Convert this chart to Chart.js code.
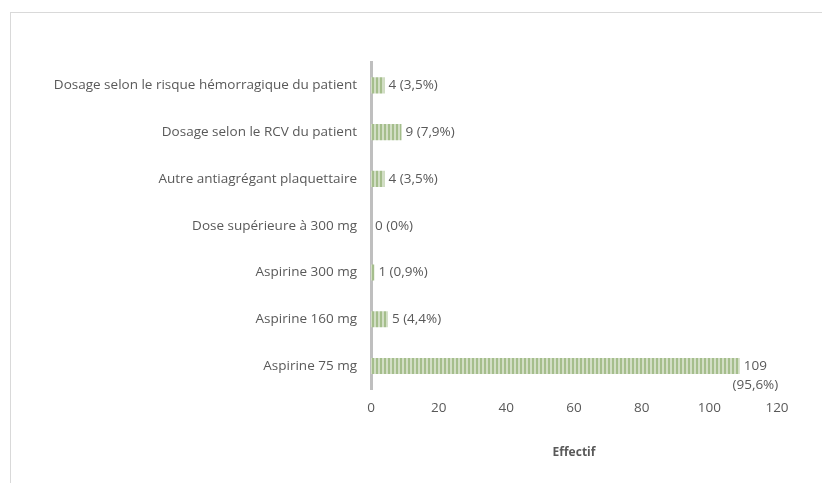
<!DOCTYPE html>
<html lang="fr">
<head>
  <meta charset="UTF-8">
  <title>Effectif</title>
  <script src="https://cdn.jsdelivr.net/npm/chart.js"></script>
  <style>
    html, body { margin: 0; padding: 0; background: #fff; overflow: hidden; }
    #frame { position: absolute; left: 10px; top: 12px; width: 900px; height: 600px;
             border-top: 1px solid #d9d9d9; border-left: 1px solid #d9d9d9; }
    #box { position: absolute; left: 0; top: 0; width: 822px; height: 483px; }
  </style>
</head>
<body>
  <div id="frame"></div>
  <div id="box"><canvas id="chart" width="822" height="483"></canvas></div>

  <script>
    const categories = [
      'Dosage selon le risque hémorragique du patient',
      'Dosage selon le RCV du patient',
      'Autre antiagrégant plaquettaire',
      'Dose supérieure à 300 mg',
      'Aspirine 300 mg',
      'Aspirine 160 mg',
      'Aspirine 75 mg'
    ];
    const counts = [4, 9, 4, 0, 1, 5, 109];
    const percents = ['3,5', '7,9', '3,5', '0', '0,9', '4,4', '95,6'];
    const xTicks = [0, 20, 40, 60, 80, 100, 120];

    const FONT = '"Open Sans", sans-serif';
    const GREY = '#595959';

    // vertical stripe fill like the original
    const pc = document.createElement('canvas');
    pc.width = 4; pc.height = 4;
    const pctx = pc.getContext('2d');
    pctx.fillStyle = '#d2dec5'; pctx.fillRect(0, 0, 4, 4);
    pctx.fillStyle = '#a5be8c'; pctx.fillRect(0, 0, 2, 4);
    const ctx = document.getElementById('chart').getContext('2d');
    const stripes = ctx.createPattern(pc, 'repeat');

    const valueLabels = {
      id: 'valueLabels',
      afterDatasetsDraw(chart) {
        const c = chart.ctx;
        const meta = chart.getDatasetMeta(0);
        c.save();
        c.font = '13.5px ' + FONT;
        c.fillStyle = GREY;
        c.textBaseline = 'middle';
        meta.data.forEach((bar, i) => {
          const txt = counts[i] + ' (' + percents[i] + '%)';
          const x = bar.x + 4;
          if (x + c.measureText(txt).width > chart.chartArea.right + 20) {
            // too long for the plot: wrap, 2nd line centred on the 1st
            const lines = txt.split(' ');
            const cx = x + c.measureText(lines[0]).width / 2;
            c.textAlign = 'center';
            lines.forEach((l, k) => c.fillText(l, cx, bar.y + k * 19));
          } else {
            c.textAlign = 'left';
            c.fillText(txt, x, bar.y);
          }
        });
        c.restore();
      }
    };

    new Chart(ctx, {
      type: 'bar',
      data: {
        labels: categories,
        datasets: [{
          data: counts,
          backgroundColor: stripes,
          borderWidth: 0,
          barPercentage: 0.69,
          categoryPercentage: 0.5
        }]
      },
      options: {
        indexAxis: 'y',
        responsive: false,
        animation: false,
        layout: { padding: { top: 62, right: 45, bottom: 23, left: 0 } },
        plugins: { legend: { display: false }, tooltip: { enabled: false } },
        scales: {
          x: {
            min: 0, max: 120,
            afterBuildTicks: s => { s.ticks = xTicks.map(v => ({ value: v })); },
            grid: { display: false, drawTicks: false },
            border: { display: false },
            ticks: { color: GREY, font: { family: FONT, size: 13.5 }, padding: 11 },
            title: { display: true, text: 'Effectif', color: GREY,
                     font: { family: FONT, size: 12, weight: 'bold' }, padding: { top: 18, bottom: 0 } }
          },
          y: {
            afterFit: s => { s.width = 371; },
            grid: { display: false, drawTicks: false },
            border: { display: true, color: '#bfbfbf', width: 3 },
            ticks: { color: GREY, font: { family: FONT, size: 13.5 }, padding: 14 }
          }
        }
      },
      plugins: [valueLabels]
    });
  </script>
</body>
</html>
